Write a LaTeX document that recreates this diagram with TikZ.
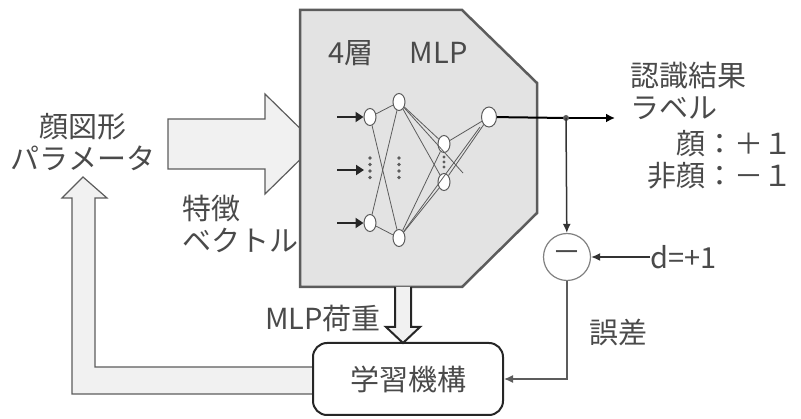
\documentclass[tikz,border=0pt]{standalone}
\usepackage{fontspec}
\usepackage{xcolor}
\usepackage{tikz}
\usetikzlibrary{arrows.meta,positioning,calc,shapes.geometric}
\newfontfamily\jpfont{Noto Sans CJK JP}
\definecolor{inkgray}{HTML}{4A4A4A}
\definecolor{edgegray}{HTML}{5C5C5C}
\definecolor{panelgray}{HTML}{E3E3E3}
\definecolor{paleband}{HTML}{F1F1F1}

\begin{document}
\begin{tikzpicture}[x=1pt, y=-1pt, every node/.style={font=\jpfont\fontsize{29}{32}\selectfont, text=inkgray, inner sep=0pt},
    unit/.style={ellipse, draw=edgegray, fill=white, line width=1pt, minimum width=12pt, minimum height=17pt},
    link/.style={draw=edgegray, line width=0.8pt},
    feed/.style={-{Latex[length=9pt,width=9pt]}, line width=2pt, black},
    band/.style={draw=edgegray, fill=paleband, line width=1.2pt}]
  \useasboundingbox (0,0) rectangle (801,419);

  % wide arrows behind the network block
  \draw[band] (313,367) -- (95,367) -- (95,198) -- (107,198) -- (83,177) -- (62,198) -- (72,198) -- (72,394) -- (313,394);
  \draw[band] (168,119) -- (265,119) -- (265,94) -- (316,144) -- (265,194) -- (265,169) -- (168,169) -- cycle;

  % network block
  \draw[draw=edgegray, fill=panelgray, line width=2.5pt] (300,10) -- (462,10) -- (537,83) -- (537,213) -- (462,287) -- (300,287) -- cycle;
  \coordinate (mlpbase) at (403,287);
  \node (title) at (398,53) {4層\hspace{36pt}MLP};

  \node[unit] (in1) at (370,117) {};
  \node[unit] (in3) at (370,223) {};
  \node[unit] (hid1) at (399,102) {};
  \node[unit] (hid3) at (399,238) {};
  \node[unit] (mid1) at (444,144) {};
  \node[unit] (mid2) at (444,182) {};
  \node[unit, minimum width=15pt, minimum height=20pt] (out) at (489,117) {};
  \coordinate (in2) at (364,170);
  \foreach \a in {in1,in3}{\foreach \b in {hid1,hid3}{\draw[link] (\a) -- (\b);}}
  \foreach \a in {hid1,hid3}{\foreach \b in {mid1,mid2}{\draw[link] (\a) -- (\b);}}
  \foreach \a in {mid1,mid2}{\draw[link] (\a) -- (out);}
  \coordinate (stray1) at (463,173);
  \coordinate (stray2) at (480,127);
  \draw[link] (hid1) -- (stray1);
  \draw[link] (hid3) -- (stray2);
  \foreach \x in {370,399}{\foreach \y in {158,164.5,171,177.5}{\fill[edgegray] (\x,\y) circle (1.9);}}
  \foreach \y in {157,162,167}{\fill[edgegray] (444,\y) circle (1.7);}
  \foreach \n/\y in {in1/117,in2/170,in3/223}{
    \coordinate (src-\n) at (337,\y);
    \draw[-{Triangle[length=8pt,width=10pt]}, line width=2pt, black!85] (src-\n) -- (\n);
  }

  % labels
  \node[align=center] (facepar) at (83,142) {顔図形\\パラメータ};
  \node[align=left, anchor=west] (featvec) at (182,224) {特徴\\ベクトル};
  \node[align=left, anchor=west] (result) at (630,91) {認識結果\\ラベル};
  \node[align=right, anchor=east] (values) at (793,160) {顔：＋１\\非顔：－１};

  % output and error path
  \coordinate (split) at (566,118);
  \coordinate (resend) at (615,118);
  \draw[line width=2pt, black] (out) -- (split);
  \draw[feed] (split) -- (resend);
  \fill[edgegray] (split) circle (3);
  \node[circle, draw=gray, line width=1.2pt, minimum size=47pt] (diff) at (567,257) {－};
  \node[anchor=west] (target) at (650,257) {d=+1};
  \draw[-{Latex[length=9pt,width=8pt]}, line width=1.5pt, black!80] (split) -- (diff);
  \draw[-{Latex[length=9pt,width=8pt]}, line width=1.5pt, black!80] (target) -- (diff);
  \node (err) at (618,332) {誤差};

  % learning unit
  \node[draw=black!85, fill=white, line width=2pt, rounded corners=14pt, minimum width=190pt, minimum height=72pt] (learn) at (408,379) {学習機構};
  \draw[-{Latex[length=9pt,width=8pt]}, line width=1.3pt, edgegray] (diff.south) |- (learn.east |- 0,379);
  \draw[draw=black!85, fill=paleband, line width=2pt] (395,287) -- (395,327) -- (386,327) -- (403,343) -- (420,327) -- (411,327) -- (411,287);
  \node[anchor=east] (weights) at (381,318) {MLP荷重};
\end{tikzpicture}
\end{document}
